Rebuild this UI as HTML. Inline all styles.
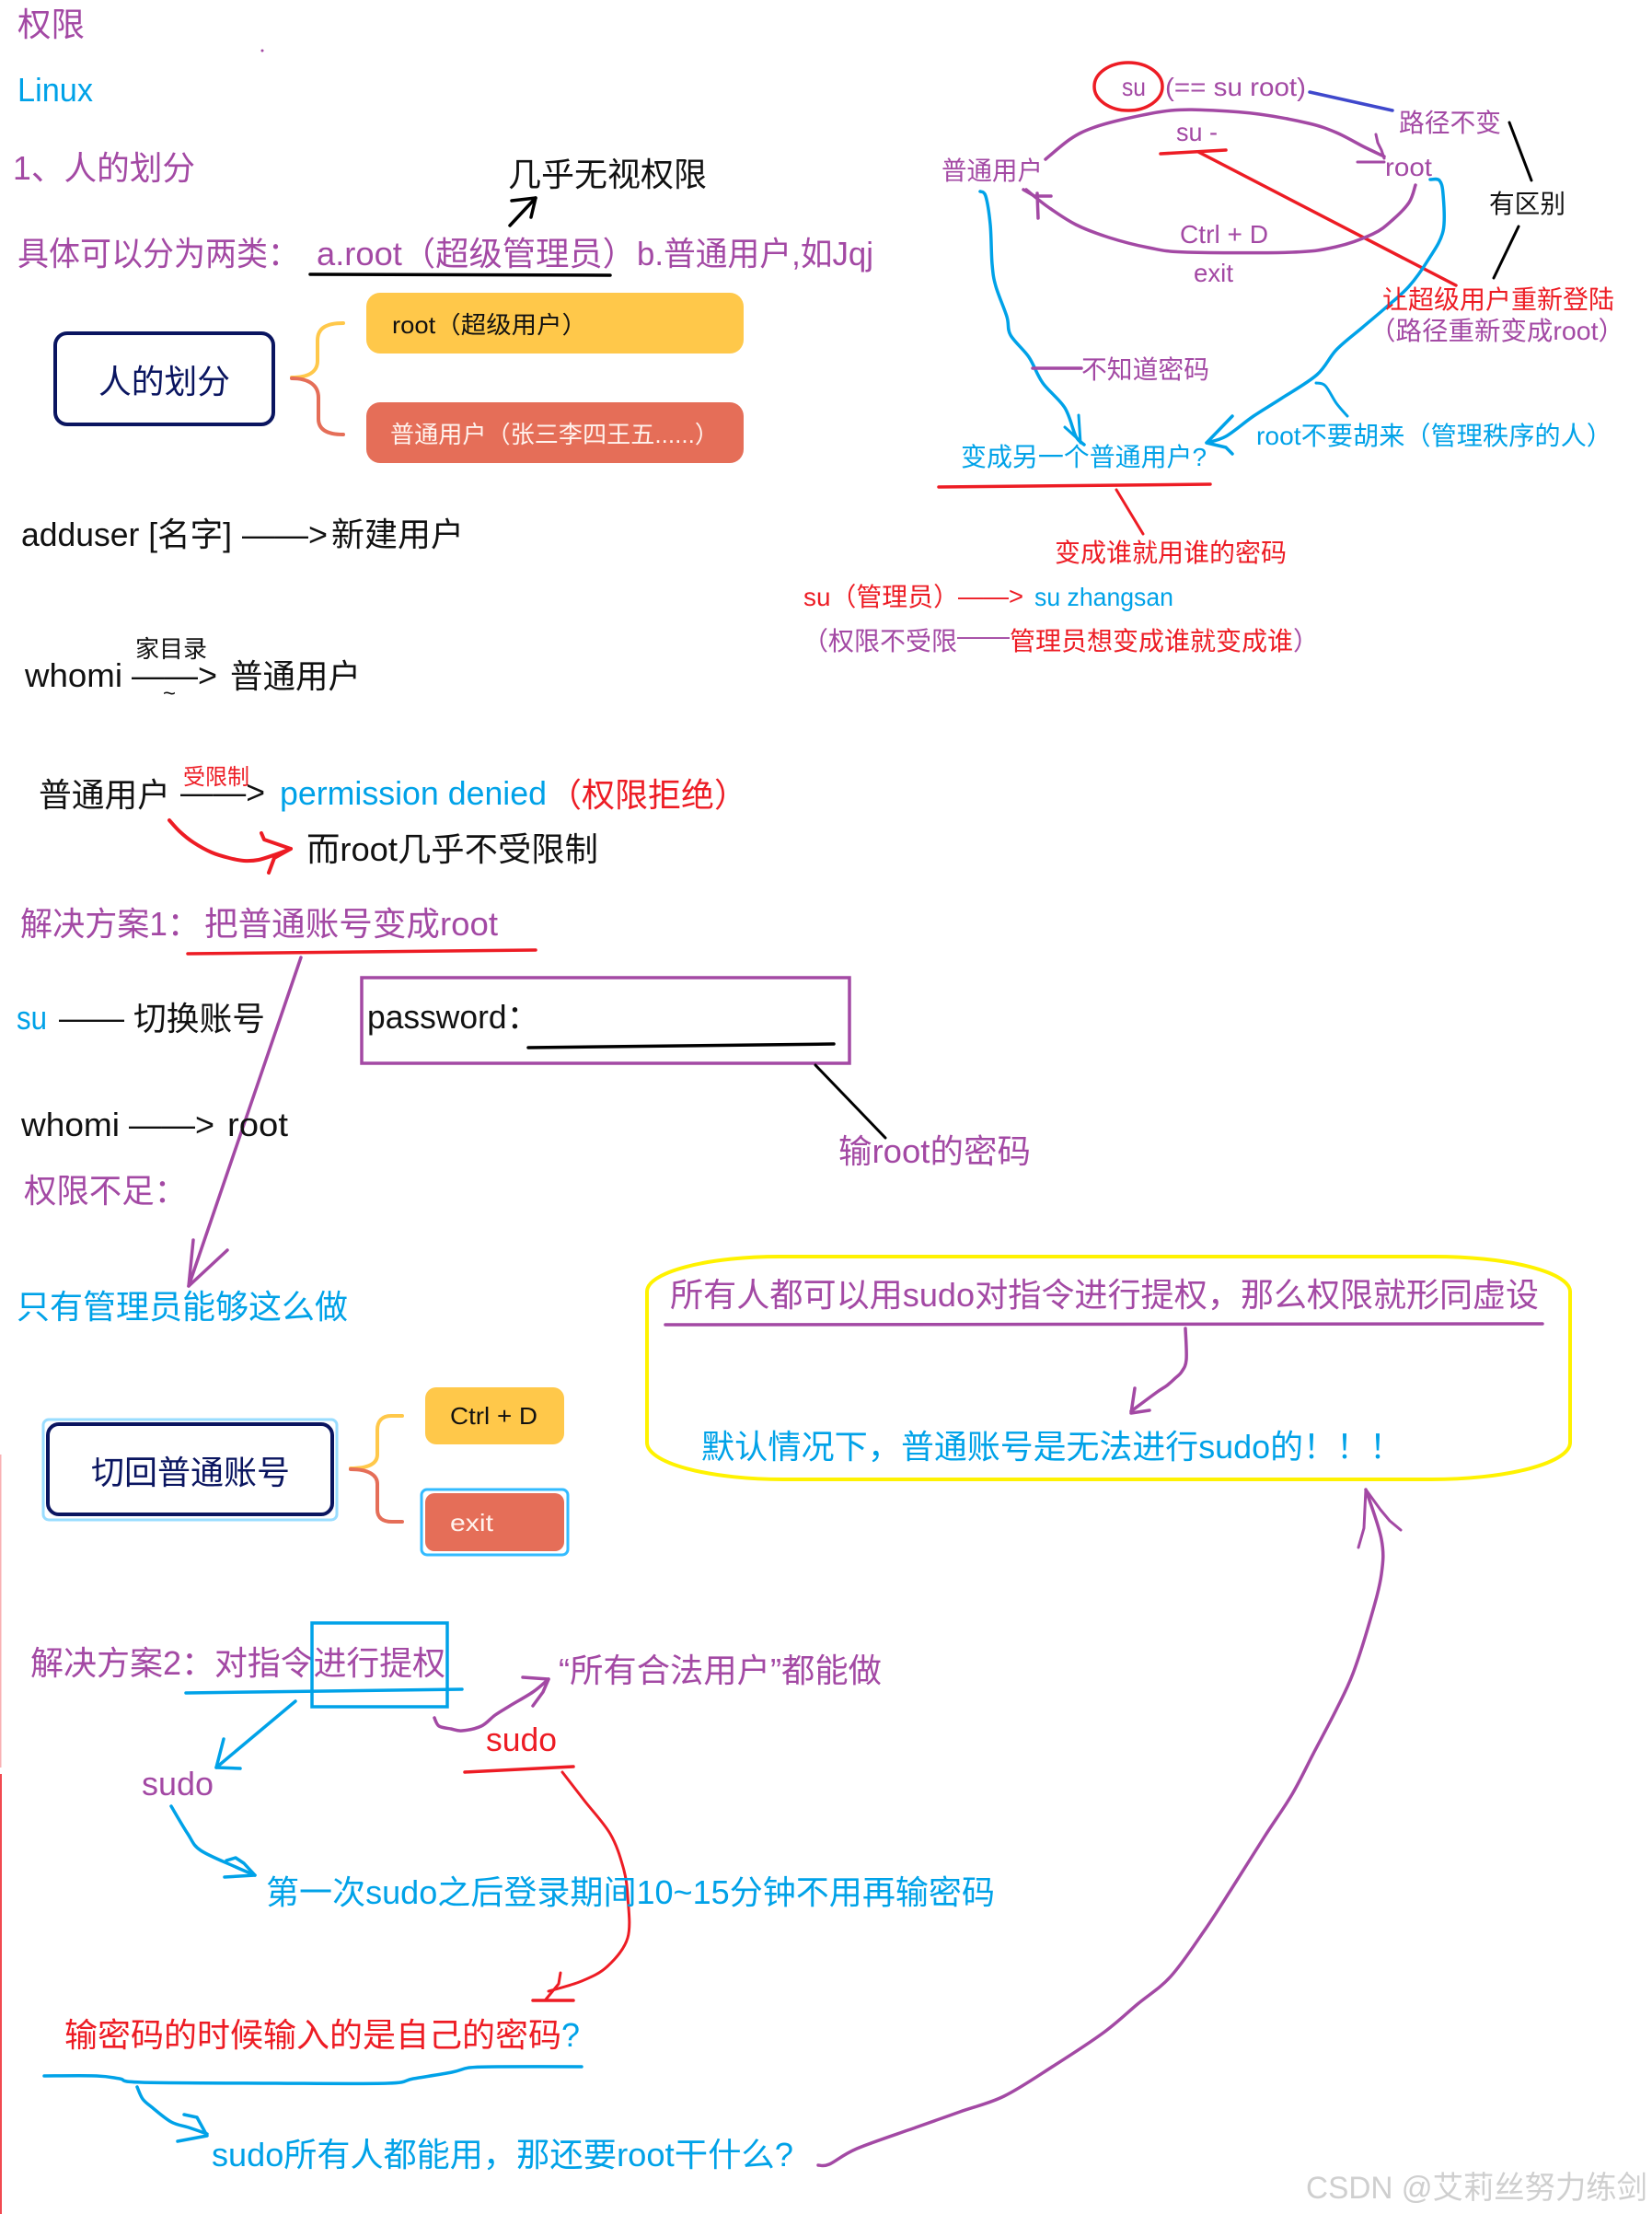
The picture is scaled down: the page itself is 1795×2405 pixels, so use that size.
<!DOCTYPE html>
<html lang="zh-CN">
<head>
<meta charset="utf-8">
<title>权限</title>
<style>
html,body{margin:0;padding:0;background:#fff;width:1795px;height:2405px;overflow:hidden}
svg{display:block}
text{font-family:"Liberation Sans","Noto Sans CJK SC",sans-serif;font-size:36px;white-space:pre}
.p{fill:#A349A4}.c{fill:#00A2E8}.r{fill:#ED1C24}.k{fill:#111}.n{fill:#0A1560}
.f28{font-size:28px}.f26{font-size:26px}.f24{font-size:24px}.f30{font-size:30px}
polyline,path.l,line{fill:none;stroke-linecap:round;stroke-linejoin:round}
.sp{stroke:#A349A4}.sc{stroke:#00A2E8}.sr{stroke:#ED1C24}.sk{stroke:#000}
</style>
</head>
<body>
<svg xmlns="http://www.w3.org/2000/svg" width="1795" height="2405" viewBox="0 0 1795 2405">
<rect width="1795" height="2405" fill="#fff"/>
<rect x="0" y="1580" width="1.5" height="340" fill="#ED1C24" opacity=".35"/>
<rect x="0" y="1927" width="2" height="478" fill="#ED1C24" opacity=".8"/>

<!-- Top left -->
<text class="p" x="19" y="39" textLength="73" lengthAdjust="spacingAndGlyphs">权限</text>
<circle cx="285" cy="55" r="1.5" fill="#A349A4"/>
<text class="c" x="19" y="110" textLength="82" lengthAdjust="spacingAndGlyphs">Linux</text>
<text class="p" x="14" y="195" textLength="198" lengthAdjust="spacingAndGlyphs">1、人的划分</text>
<text class="k" x="552" y="202" textLength="216" lengthAdjust="spacingAndGlyphs">几乎无视权限</text>
<polyline class="sk" stroke-width="3.5" points="554,245 582,215"/>
<polyline class="sk" stroke-width="3.5" points="556,218 582,215 577,236"/>
<text class="p" x="19" y="288" textLength="306" lengthAdjust="spacingAndGlyphs">具体可以分为两类：</text>
<text class="p" x="344" y="288" textLength="347" lengthAdjust="spacingAndGlyphs">a.root（超级管理员）</text>
<text class="p" x="692" y="288" textLength="257" lengthAdjust="spacingAndGlyphs">b.普通用户,如Jqj</text>
<line class="sk" stroke-width="3.5" x1="337" y1="298" x2="663" y2="299"/>

<rect x="398" y="318" width="410" height="66" rx="15" fill="#FFC84A"/>
<text class="k f26" x="426" y="362" textLength="212" lengthAdjust="spacingAndGlyphs">root（超级用户）</text>
<rect x="398" y="437" width="410" height="66" rx="15" fill="#E56E58"/>
<text class="f26" fill="#FFF3EE" x="424" y="481" textLength="357" lengthAdjust="spacingAndGlyphs">普通用户（张三李四王五......）</text>
<rect x="60" y="362" width="237" height="99" rx="13" fill="#fff" stroke="#0A1560" stroke-width="4"/>
<text class="n" x="107" y="427" textLength="143" lengthAdjust="spacingAndGlyphs">人的划分</text>
<path class="l" stroke="#FFC84A" stroke-width="4" d="M373 351 C355 351 345 356 345 370 L345 392 C345 404 335 410 317 410"/>
<path class="l" stroke="#E56E58" stroke-width="4" d="M317 411 C335 411 346 418 346 432 L346 455 C346 467 356 472 373 472"/>

<text class="k" x="23" y="593" textLength="229" lengthAdjust="spacingAndGlyphs">adduser [名字]</text>
<text class="k" x="263" y="593" textLength="93" lengthAdjust="spacingAndGlyphs">——&gt;</text>
<text class="k" x="360" y="593" textLength="144" lengthAdjust="spacingAndGlyphs">新建用户</text>

<text class="k" x="27" y="746" textLength="106" lengthAdjust="spacingAndGlyphs">whomi</text>
<text class="k" x="143" y="746" textLength="93" lengthAdjust="spacingAndGlyphs">——&gt;</text>
<text class="k f26" x="147" y="714" textLength="78" lengthAdjust="spacingAndGlyphs">家目录</text>
<text class="k f24" x="177" y="761" textLength="14" lengthAdjust="spacingAndGlyphs">~</text>
<text class="k" x="250" y="747" textLength="142" lengthAdjust="spacingAndGlyphs">普通用户</text>

<text class="k" x="42" y="876" textLength="143" lengthAdjust="spacingAndGlyphs">普通用户</text>
<text class="r f24" x="199" y="852" textLength="72" lengthAdjust="spacingAndGlyphs">受限制</text>
<text class="k" x="196" y="873" textLength="92" lengthAdjust="spacingAndGlyphs">——&gt;</text>
<text class="c" x="304" y="874" textLength="290" lengthAdjust="spacingAndGlyphs">permission denied</text>
<text class="r" x="596" y="876" textLength="216" lengthAdjust="spacingAndGlyphs">（权限拒绝）</text>
<polyline class="sr s" stroke-width="4" points="184,891 195,903 210,915 230,926 249,932 265,935 281,934 300,928 316,922"/>
<polyline class="sr" stroke-width="4" points="284,905 287,912 316,922 298,932 292,948"/>
<text class="k" x="333" y="935" textLength="317" lengthAdjust="spacingAndGlyphs">而root几乎不受限制</text>

<text class="p" x="22" y="1016" textLength="195" lengthAdjust="spacingAndGlyphs">解决方案1：</text>
<text class="p" x="222" y="1016" textLength="319" lengthAdjust="spacingAndGlyphs">把普通账号变成root</text>
<line class="sr" stroke-width="3.5" x1="204" y1="1036" x2="582" y2="1032"/>
<line class="sp" stroke-width="3.5" x1="327" y1="1040" x2="205" y2="1397"/>
<polyline class="sp" stroke-width="3.5" points="210,1347 205,1397 247,1358"/>

<text class="c" x="18" y="1118" textLength="33" lengthAdjust="spacingAndGlyphs">su</text>
<text class="k" x="64" y="1118" textLength="71" lengthAdjust="spacingAndGlyphs">——</text>
<text class="k" x="145" y="1119" textLength="143" lengthAdjust="spacingAndGlyphs">切换账号</text>
<rect x="393" y="1062" width="530" height="93" fill="none" stroke="#A349A4" stroke-width="3.5"/>
<text class="k" x="399" y="1117" textLength="187" lengthAdjust="spacingAndGlyphs">password：</text>
<line class="sk" stroke-width="3.5" x1="574" y1="1138" x2="906" y2="1134"/>
<line class="sk" stroke-width="3" x1="886" y1="1157" x2="962" y2="1236"/>
<text class="p" x="911" y="1263" textLength="209" lengthAdjust="spacingAndGlyphs">输root的密码</text>
<text class="k" x="23" y="1234" textLength="107" lengthAdjust="spacingAndGlyphs">whomi</text>
<text class="k" x="140" y="1234" textLength="93" lengthAdjust="spacingAndGlyphs">——&gt;</text>
<text class="k" x="247" y="1234" textLength="66" lengthAdjust="spacingAndGlyphs">root</text>
<text class="p" x="26" y="1306" textLength="177" lengthAdjust="spacingAndGlyphs">权限不足：</text>
<text class="c" x="18" y="1432" textLength="360" lengthAdjust="spacingAndGlyphs">只有管理员能够这么做</text>

<!-- 切回 -->
<rect x="47" y="1542" width="319" height="109" rx="6" fill="none" stroke="#99DDFF" stroke-width="3"/>
<rect x="52" y="1547" width="309" height="98" rx="12" fill="#fff" stroke="#0A1560" stroke-width="4"/>
<text class="n" x="99" y="1612" textLength="216" lengthAdjust="spacingAndGlyphs">切回普通账号</text>
<path class="l" stroke="#FFC84A" stroke-width="4" d="M437 1538 L425 1538 C415 1538 410 1544 410 1553 L410 1580 C410 1590 400 1595 381 1595"/>
<path class="l" stroke="#E56E58" stroke-width="4" d="M381 1596 C400 1596 410 1602 410 1612 L410 1640 C410 1649 416 1653 426 1653 L437 1653"/>
<rect x="462" y="1507" width="151" height="62" rx="12" fill="#FFC84A"/>
<text class="k f26" x="489" y="1547" textLength="95" lengthAdjust="spacingAndGlyphs">Ctrl + D</text>
<rect x="458" y="1618" width="159" height="71" rx="6" fill="none" stroke="#33BBFF" stroke-width="3"/>
<rect x="462" y="1622" width="151" height="63" rx="10" fill="#E56E58"/>
<text class="f26" fill="#FFF3EE" x="489" y="1663" textLength="47" lengthAdjust="spacingAndGlyphs">exit</text>

<!-- Yellow panel -->
<path class="l" stroke="#FFF200" stroke-width="4" d="M847 1365 L1558 1365 A148 38 0 0 1 1706 1403 L1706 1567 A151 40 0 0 1 1555 1607 L851 1607 A148 40 0 0 1 703 1567 L703 1403 A144 38 0 0 1 847 1365 Z"/>
<text class="p" x="728" y="1419" textLength="620" lengthAdjust="spacingAndGlyphs">所有人都可以用sudo对指令进行提权，</text>
<text class="p" x="1348" y="1419" textLength="324" lengthAdjust="spacingAndGlyphs">那么权限就形同虚设</text>
<line class="sp" stroke-width="3.5" x1="723" y1="1439" x2="1676" y2="1438"/>
<polyline class="sp s" stroke-width="3.5" points="1288,1443 1289,1477 1284,1490 1277,1497 1268,1505 1256,1513 1229,1533"/>
<polyline class="sp" stroke-width="3.5" points="1233,1508 1229,1535 1249,1532"/>
<text class="c" x="762" y="1584" textLength="217" lengthAdjust="spacingAndGlyphs">默认情况下，</text>
<text class="c" x="979" y="1584" textLength="437" lengthAdjust="spacingAndGlyphs">普通账号是无法进行sudo的</text>
<text class="c" x="1416" y="1584" textLength="108" lengthAdjust="spacingAndGlyphs">！！！</text>

<!-- Solution 2 -->
<text class="p" x="33" y="1819" textLength="200" lengthAdjust="spacingAndGlyphs">解决方案2：</text>
<text class="p" x="233" y="1819" textLength="251" lengthAdjust="spacingAndGlyphs">对指令进行提权</text>
<rect x="339" y="1763" width="147" height="91" fill="none" stroke="#00A2E8" stroke-width="3.5"/>
<line class="sc" stroke-width="3.5" x1="202" y1="1839" x2="502" y2="1835"/>
<line class="sc" stroke-width="3.5" x1="321" y1="1848" x2="235" y2="1920"/>
<polyline class="sc" stroke-width="3.5" points="243,1889 235,1920 261,1921"/>
<text class="p" x="154" y="1950" textLength="78" lengthAdjust="spacingAndGlyphs">sudo</text>
<text class="r" x="528" y="1902" textLength="77" lengthAdjust="spacingAndGlyphs">sudo</text>
<polyline class="sp s" stroke-width="3.5" points="472,1866 477,1875 490,1878 502,1880 523,1875 538,1863 554,1853 579,1838 596,1824"/>
<polyline class="sp" stroke-width="3.5" points="568,1822 596,1824 590,1838 579,1853"/>
<text class="p" x="607" y="1827" textLength="351" lengthAdjust="spacingAndGlyphs">“所有合法用户”都能做</text>
<line class="sr" stroke-width="3.5" x1="505" y1="1925" x2="623" y2="1919"/>
<polyline class="sr s" stroke-width="3" points="611,1925 635,1956 663,1992 677,2028 682,2060 682,2105 660,2136 632,2152 596,2163"/>
<polyline class="sr" stroke-width="3" points="609,2143 607,2155 593,2172"/>
<line class="sr" stroke-width="3.5" x1="579" y1="2173" x2="623" y2="2173"/>
<polyline class="sc s" stroke-width="3.5" points="186,1962 204,1992 218,2010 256,2028 277,2037"/>
<polyline class="sc" stroke-width="3.5" points="246,2021 256,2018 265,2024 277,2037 244,2039"/>
<text class="c" x="289" y="2068" textLength="792" lengthAdjust="spacingAndGlyphs">第一次sudo之后登录期间10~15分钟不用再输密码</text>
<text class="r" x="70" y="2223" textLength="540" lengthAdjust="spacingAndGlyphs">输密码的时候输入的是自己的密码</text>
<text class="c" x="610" y="2223" textLength="20" lengthAdjust="spacingAndGlyphs">?</text>
<polyline class="sc s" stroke-width="3.5" points="48,2255 105,2255 130,2258 154,2262 300,2263 421,2263 449,2258 491,2251 510,2246 540,2245 632,2245"/>
<polyline class="sc s" stroke-width="3.5" points="149,2267 155,2280 165,2289 186,2305 205,2311 225,2318"/>
<polyline class="sc" stroke-width="3.5" points="200,2297 214,2300 225,2320 193,2326"/>
<text class="c" x="230" y="2353" textLength="331" lengthAdjust="spacingAndGlyphs">sudo所有人都能用，</text>
<text class="c" x="561" y="2353" textLength="301" lengthAdjust="spacingAndGlyphs">那还要root干什么?</text>
<polyline class="sp s" stroke-width="3.5" points="889,2352 901,2351 931,2334 995,2311 1043,2294 1091,2277 1145,2244 1199,2208 1236,2177 1272,2147 1308,2098 1338,2052 1374,1995 1404,1949 1428,1903 1452,1857 1470,1818 1489,1759 1501,1710 1501,1672 1484,1618"/>
<polyline class="sp" stroke-width="3" points="1476,1681 1482,1660 1484,1618 1500,1640 1510,1652 1522,1662"/>

<!-- Top right -->
<ellipse cx="1226" cy="94" rx="37" ry="26" fill="none" stroke="#ED1C24" stroke-width="3.5"/>
<text class="p f28" x="1219" y="104" textLength="26" lengthAdjust="spacingAndGlyphs">su</text>
<text class="p f28" x="1266" y="104" textLength="153" lengthAdjust="spacingAndGlyphs">(== su root)</text>
<line stroke="#3F48CC" stroke-width="3.5" x1="1423" y1="100" x2="1513" y2="120"/>
<text class="p f28" x="1520" y="143" textLength="111" lengthAdjust="spacingAndGlyphs">路径不变</text>
<text class="k f28" x="1618" y="231" textLength="83" lengthAdjust="spacingAndGlyphs">有区别</text>
<line class="sk" stroke-width="3" x1="1640" y1="133" x2="1664" y2="196"/>
<line class="sk" stroke-width="3" x1="1650" y1="246" x2="1623" y2="302"/>
<polyline class="sp s" stroke-width="3.5" points="1136,173 1163,151 1187,139 1223,129 1272,120 1320,120 1368,124 1422,134 1452,144 1483,160 1504,170"/>
<polyline class="sp" stroke-width="3" points="1495,146 1497,155 1501,163 1504,172"/>
<line class="sp" stroke-width="3" x1="1475" y1="176" x2="1504" y2="176"/>
<text class="p f28" x="1023" y="195" textLength="110" lengthAdjust="spacingAndGlyphs">普通用户</text>
<text class="p f28" x="1278" y="153" textLength="45" lengthAdjust="spacingAndGlyphs">su -</text>
<line class="sr" stroke-width="3.5" x1="1261" y1="167" x2="1332" y2="163"/>
<line class="sr" stroke-width="3.5" x1="1302" y1="165" x2="1582" y2="310"/>
<text class="p f28" x="1505" y="191" textLength="51" lengthAdjust="spacingAndGlyphs">root</text>
<polyline class="sp s" stroke-width="3.5" points="1538,201 1531,220 1513,239 1492,254 1452,268 1404,274 1290,274 1248,269 1205,258 1169,244 1139,225 1115,206"/>
<polyline class="sp" stroke-width="3.5" points="1112,206 1124,213 1142,213"/>
<line class="sp" stroke-width="3.5" x1="1128" y1="237" x2="1127" y2="210"/>
<text class="p f28" x="1282" y="264" textLength="96" lengthAdjust="spacingAndGlyphs">Ctrl + D</text>
<text class="p f28" x="1297" y="306" textLength="43" lengthAdjust="spacingAndGlyphs">exit</text>
<polyline class="sc s" stroke-width="3.5" points="1554,195 1564,196 1568,211 1568,251 1552,282 1531,311 1507,333 1480,356 1452,380 1431,407 1392,433 1362,452 1332,474 1311,481"/>
<polyline class="sc" stroke-width="3.5" points="1339,452 1311,481 1332,486 1339,493"/>
<polyline class="sc s" stroke-width="3.5" points="1065,208 1071,213 1076,244 1078,287 1082,311 1094,344 1098,364 1118,388 1133,416 1157,443 1169,474 1178,483"/>
<polyline class="sc" stroke-width="3" points="1172,451 1174,481"/>
<polyline class="sc" stroke-width="3" points="1157,464 1178,483"/>
<line class="sp" stroke-width="3.5" x1="1122" y1="400" x2="1175" y2="400"/>
<text class="p f28" x="1175" y="411" textLength="139" lengthAdjust="spacingAndGlyphs">不知道密码</text>
<text class="c f28" x="1365" y="483" textLength="387" lengthAdjust="spacingAndGlyphs">root不要胡来（管理秩序的人）</text>
<polyline class="sc s" stroke-width="3" points="1430,416 1440,419 1452,438 1464,452"/>
<text class="c f28" x="1044" y="506" textLength="267" lengthAdjust="spacingAndGlyphs">变成另一个普通用户?</text>
<line class="sr" stroke-width="3.5" x1="1020" y1="529" x2="1315" y2="526"/>
<line class="sr" stroke-width="3" x1="1213" y1="532" x2="1242" y2="580"/>
<text class="r f28" x="1146" y="610" textLength="252" lengthAdjust="spacingAndGlyphs">变成谁就用谁的密码</text>
<text class="r f28" x="1502" y="335" textLength="252" lengthAdjust="spacingAndGlyphs">让超级用户重新登陆</text>
<text class="p f28" x="1488" y="369" textLength="277" lengthAdjust="spacingAndGlyphs">（路径重新变成root）</text>
<text class="r f28" x="873" y="658" textLength="169" lengthAdjust="spacingAndGlyphs">su（管理员）</text>
<text class="r f28" x="1041" y="657" textLength="71" lengthAdjust="spacingAndGlyphs">——&gt;</text>
<text class="c f28" x="1124" y="658" textLength="151" lengthAdjust="spacingAndGlyphs">su zhangsan</text>
<text class="p f28" x="872" y="706" textLength="168" lengthAdjust="spacingAndGlyphs">（权限不受限</text>
<text class="p f28" x="1040" y="700" textLength="57" lengthAdjust="spacingAndGlyphs">——</text>
<text class="r f28" x="1097" y="706" textLength="308" lengthAdjust="spacingAndGlyphs">管理员想变成谁就变成谁</text>
<text class="p f28" x="1405" y="706" textLength="28" lengthAdjust="spacingAndGlyphs">）</text>

<!-- Watermark -->
<text fill="#cfcfcf" x="1419" y="2388" style="font-size:34px" textLength="371" lengthAdjust="spacingAndGlyphs">CSDN @艾莉丝努力练剑</text>
</svg>
<script>
document.querySelectorAll('polyline.s').forEach(function(el){
  var pts=el.getAttribute('points').trim().split(/\s+/).map(function(s){return s.split(',').map(Number)});
  var d='M'+pts[0][0]+' '+pts[0][1];
  for(var i=0;i<pts.length-1;i++){
    var p0=pts[i-1]||pts[i],p1=pts[i],p2=pts[i+1],p3=pts[i+2]||p2;
    var c1=[p1[0]+(p2[0]-p0[0])/6,p1[1]+(p2[1]-p0[1])/6],c2=[p2[0]-(p3[0]-p1[0])/6,p2[1]-(p3[1]-p1[1])/6];
    d+=' C'+c1[0].toFixed(1)+' '+c1[1].toFixed(1)+' '+c2[0].toFixed(1)+' '+c2[1].toFixed(1)+' '+p2[0]+' '+p2[1];
  }
  var path=document.createElementNS('http://www.w3.org/2000/svg','path');
  path.setAttribute('d',d);
  path.setAttribute('class','l '+el.getAttribute('class').replace(/\bs\b/,''));
  path.setAttribute('stroke-width',el.getAttribute('stroke-width'));
  el.parentNode.replaceChild(path,el);
});
</script>
</body>
</html>
